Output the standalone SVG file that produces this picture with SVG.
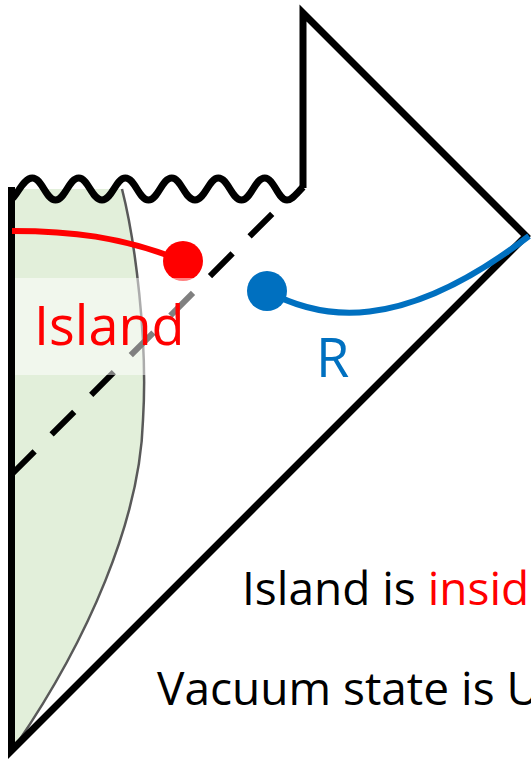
<svg xmlns="http://www.w3.org/2000/svg" width="531" height="759" viewBox="0 0 531 759">
<style>
.outline{fill:none;stroke:#000;stroke-width:7;stroke-linejoin:miter;stroke-miterlimit:10}
.wave{fill:none;stroke:#000;stroke-width:7;stroke-linejoin:round}
.dash{fill:none;stroke:#000;stroke-width:6;stroke-dasharray:32 24}
.txt{font-family:"Open Sans","Liberation Sans",sans-serif}
</style>
<rect width="531" height="759" fill="#fff"/>
<g id="island-region">
<path d="M15 189 L122 189 C135 240 148 340 143 420 C140 520 88 640 16 745 L15 745 Z" fill="#e2efda"/>
<path d="M122 189 C135 240 148 340 143 420 C140 520 88 640 16 745" fill="none" stroke="#595959" stroke-width="2.5"/>
</g>
<g id="penrose-diagram">
<path class="outline" d="M303 188 L303 13 L526 236 L11.5 750.5 L11.5 187"/>
<path class="wave" d="M9 200 C16 200 22 178 32.3 178 C42 178 46 200 55.5 200 C65 200 69 178 78.8 178 C88 178 92 200 102 200 C112 200 116 178 125.3 178 C135 178 139 200 148.5 200 C158 200 162 178 171.8 178 C181 178 185 200 195 200 C205 200 209 178 218.3 178 C228 178 232 200 241.5 200 C251 200 255 178 264.8 178 C274 178 278 200 287 200 C292 200 296 194 303 187"/>
</g>
<g id="connectors">
<path class="dash" d="M12 474 L274 212"/>
</g>
<g id="island-curve">
<path d="M12 231 C70 231 120 236 183 261" fill="none" stroke="#ff0000" stroke-width="6"/>
<circle cx="183" cy="261" r="20" fill="#ff0000"/>
</g>
<g id="radiation-R">
<path d="M267 291 C320 320 400 335 529 236" fill="none" stroke="#0070c0" stroke-width="6"/>
<circle cx="267" cy="291" r="20" fill="#0070c0"/>
</g>
<g id="island-label">
<rect x="15" y="278" width="200" height="97" fill="#fff" fill-opacity="0.5"/>
<text class="txt" x="34" y="345" font-size="54" fill="#ff0000">Island</text>
</g>
<g id="R-label">
<text class="txt" x="316" y="377" font-size="54" fill="#0070c0">R</text>
</g>
<g id="notes">
<text class="txt" x="242" y="605" font-size="46" fill="#000">Island is <tspan fill="#ff0000">inside</tspan></text>
<text class="txt" x="157" y="705" font-size="46" fill="#000">Vacuum state is U</text>
</g>
</svg>
